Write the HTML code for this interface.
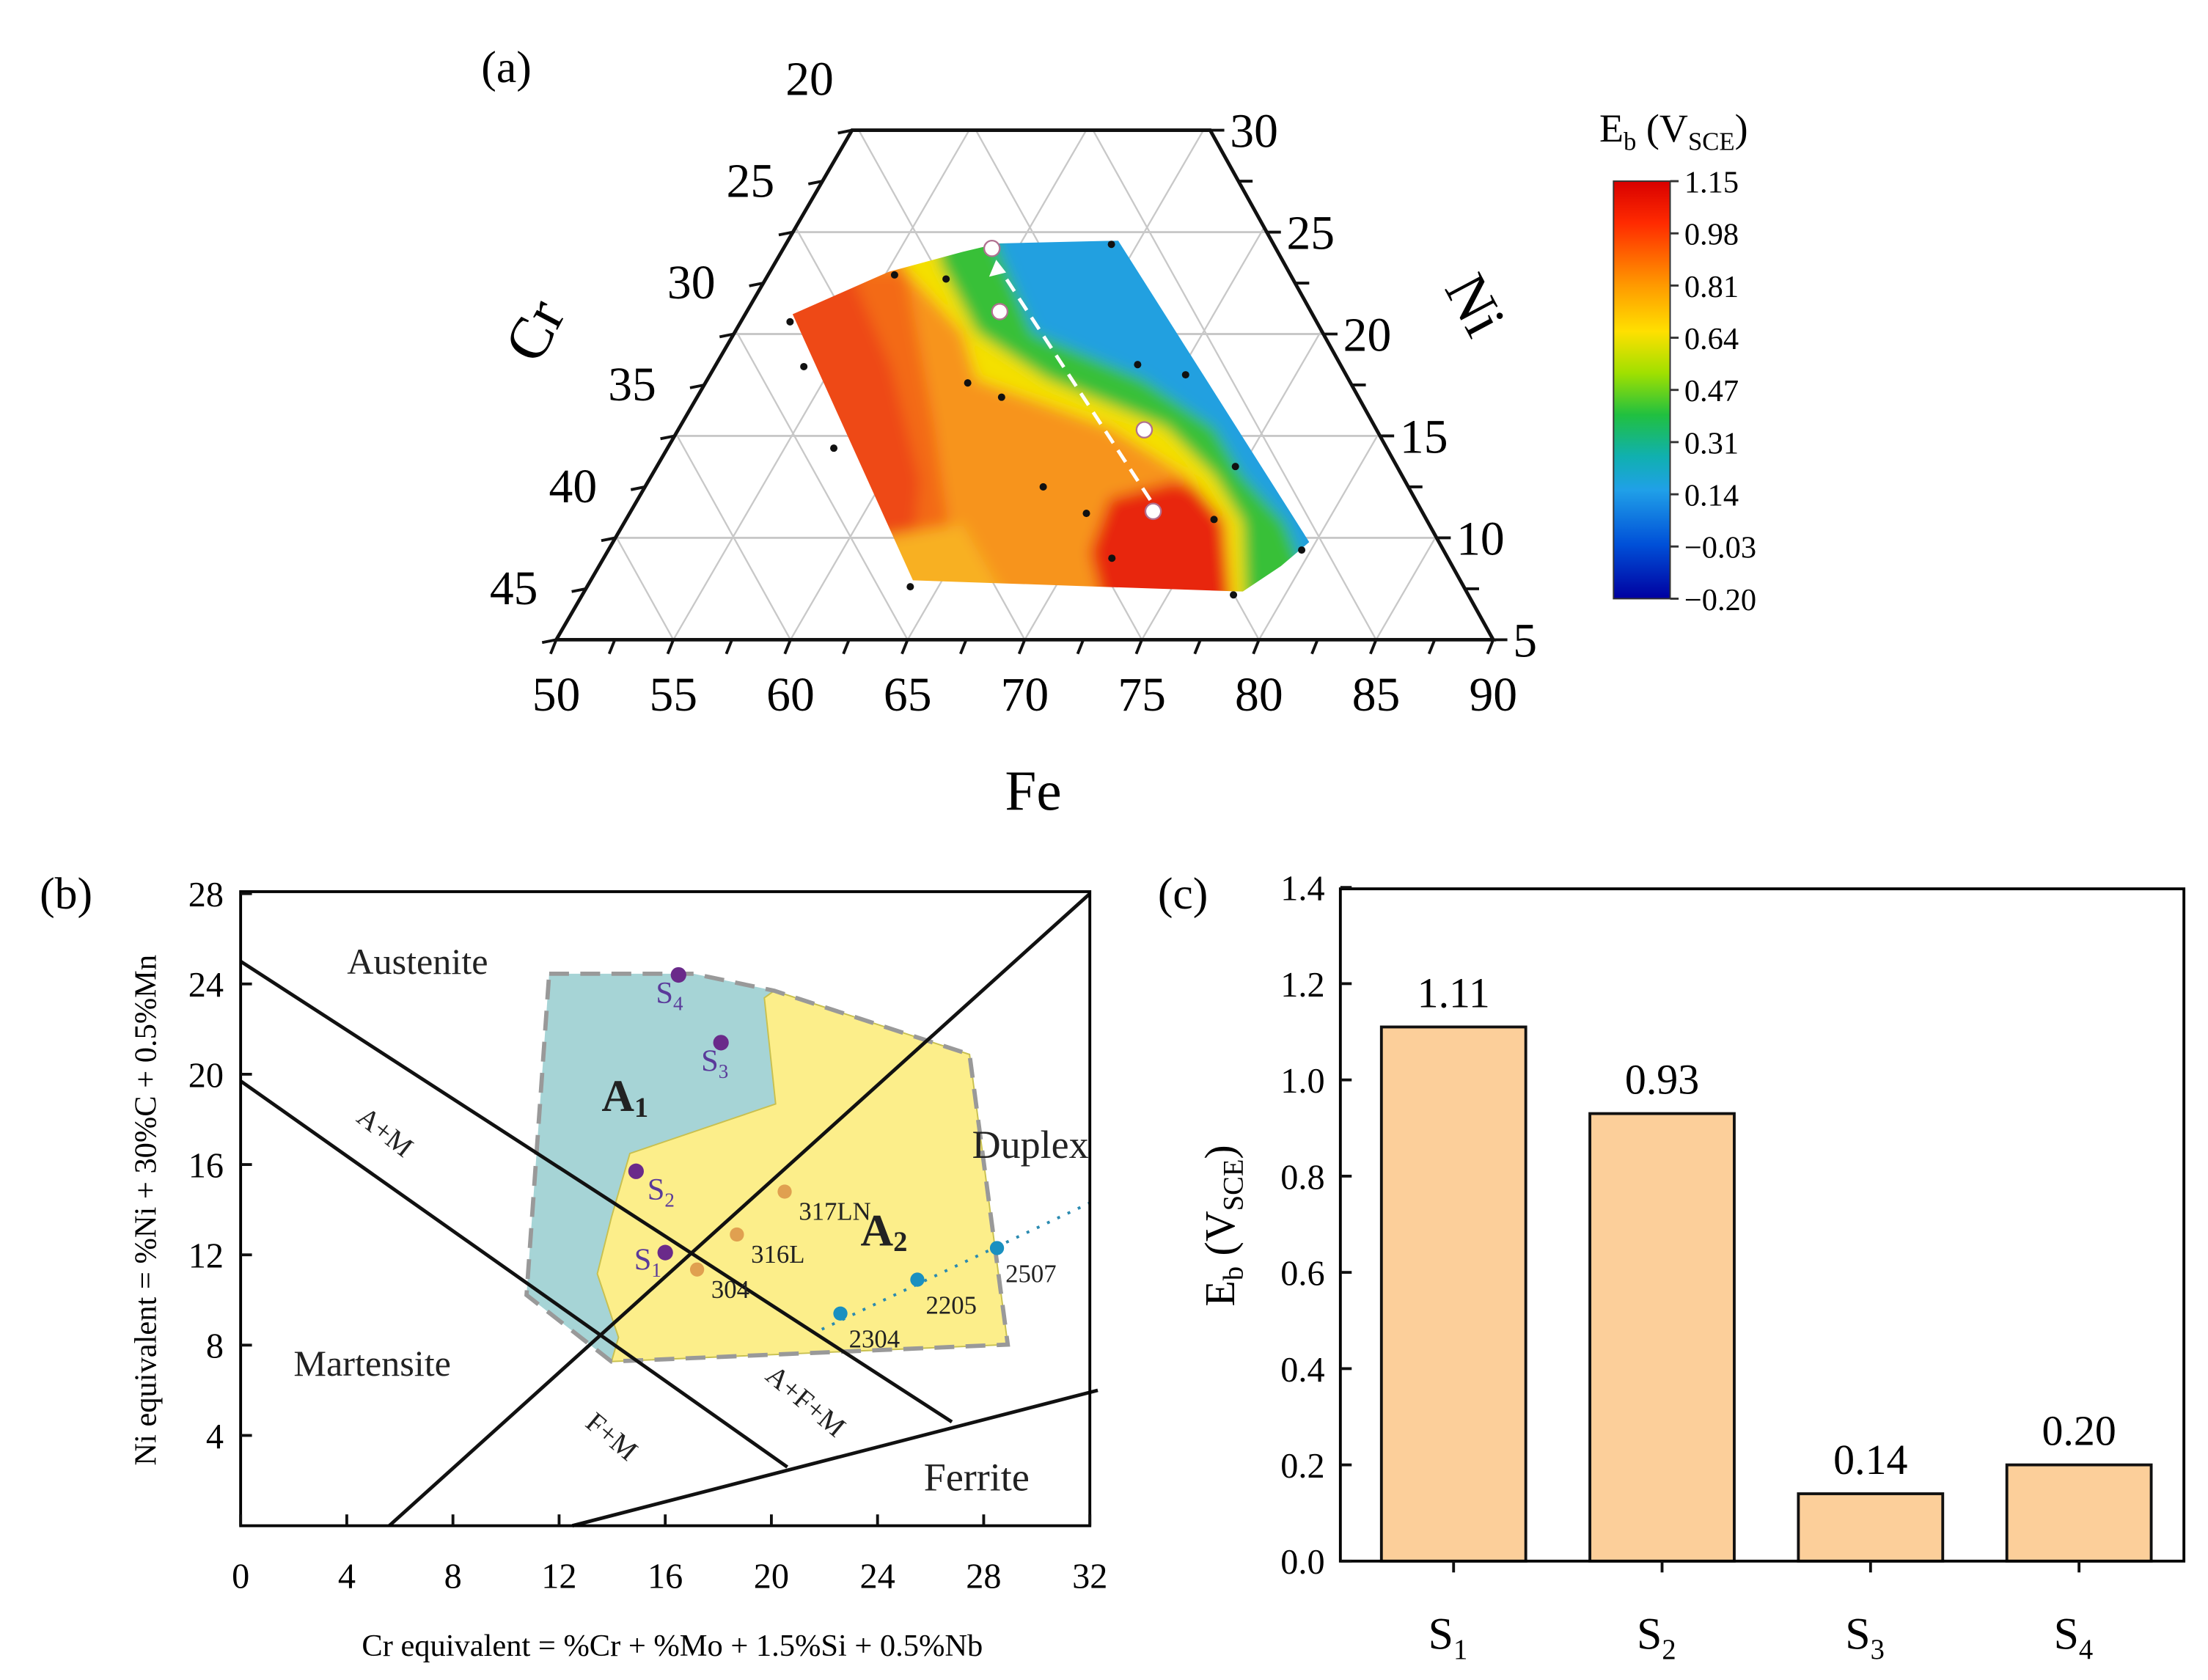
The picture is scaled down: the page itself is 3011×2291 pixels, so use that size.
<!DOCTYPE html>
<html><head><meta charset="utf-8">
<style>
html,body{margin:0;padding:0;background:#fff;}
svg{display:block;font-family:"Liberation Serif",serif;}
</style></head>
<body>
<svg id="fig" width="3011" height="2291" viewBox="0 0 1560 1187" xmlns="http://www.w3.org/2000/svg">
<defs>
  <clipPath id="triClip"><polygon points="393,452 602,92 855,92 1055,452"/></clipPath>
  <clipPath id="contClip"><polygon points="560,222 628,192 680,178 705,172 790,170 925,383 905,400 878,418 645,410"/></clipPath>
  <filter id="blur" x="-5%" y="-5%" width="110%" height="110%"><feGaussianBlur stdDeviation="5"/></filter>
  <linearGradient id="jet" x1="0" y1="0" x2="0" y2="1">
    <stop offset="0" stop-color="#d80000"/>
    <stop offset="0.1" stop-color="#ff2a00"/>
    <stop offset="0.25" stop-color="#ff9a00"/>
    <stop offset="0.36" stop-color="#ffe000"/>
    <stop offset="0.46" stop-color="#a0e000"/>
    <stop offset="0.56" stop-color="#20c040"/>
    <stop offset="0.66" stop-color="#10b0b0"/>
    <stop offset="0.74" stop-color="#20a0e8"/>
    <stop offset="0.87" stop-color="#0050d8"/>
    <stop offset="1" stop-color="#0000a0"/>
  </linearGradient>
</defs>

<!-- ============ PANEL A ============ -->
<g id="panelA">
  <text x="340" y="58" font-size="32">(a)</text>
  <g id="triGrid" clip-path="url(#triClip)"></g>
  <g clip-path="url(#contClip)">
    <g filter="url(#blur)">
      <polygon points="520,140 1000,140 1000,450 520,450" fill="#f7941a"/>
      <polygon points="520,180 600,180 630,260 650,340 640,440 520,440" fill="#ee4a12"/>
      <polygon points="600,190 640,191 660,300 680,440 640,440 650,340 630,260" fill="#f36a16"/>
      <polygon points="620,380 680,370 720,440 620,440" fill="#f8b020"/>
      <polygon points="784,352 830,340 862,350 870,430 780,430 770,390" fill="#e82810"/>
      <polygon points="640,191 680,235 690,268 784,302 838,336 866,369 870,430 1000,430 1000,140 630,140" fill="#f4e000"/>
      <polygon points="664,185 690,235 740,268 824,302 858,336 878,369 880,430 1000,430 1000,140 660,140" fill="#38c038"/>
      <polygon points="705,175 730,235 808,268 858,302 878,336 908,369 920,400 1000,430 1000,140 700,140" fill="#22a0e0"/>
      <polygon points="800,150 1000,150 1000,425 940,400 890,300 830,200" fill="#1a82e0"/>
    </g>
  </g>
  <g id="triAxes"></g>
  <g id="triMarks"></g>
  <text x="730" y="572" font-size="40" text-anchor="middle">Fe</text>
  <text x="0" y="0" font-size="42" text-anchor="middle" transform="translate(390,240) rotate(-62)">Cr</text>
  <text x="0" y="0" font-size="42" text-anchor="middle" transform="translate(1030,222) rotate(62)">Ni</text>

  <g>
    <text x="1130" y="100" font-size="28">E<tspan font-size="18" dy="6">b</tspan><tspan dy="-6"> (V</tspan><tspan font-size="18" dy="6">SCE</tspan><tspan dy="-6">)</tspan></text>
    <rect x="1140" y="128" width="40" height="295" fill="url(#jet)" stroke="#333" stroke-width="1"/>
    <g id="cbTicks"></g>
  </g>
</g>

<!-- ============ PANEL B ============ -->
<g id="panelB">
  <text x="28" y="642" font-size="32">(b)</text>
  <g id="bRegions">
    <polygon points="388,688 490,688 547,700 540,705 548,780 445,815 432,860 422,900 437,945 432,962 372,915" fill="#a6d4d6"/>
    <polygon points="547,700 685,745 712,950 432,962 437,945 422,900 432,860 445,815 548,780 540,705" fill="#fcee8a" stroke="#c8c050" stroke-width="1"/>
    <polygon points="388,688 490,688 547,700 685,745 712,950 432,962 372,915" fill="none" stroke="#999" stroke-width="3" stroke-dasharray="14,8"/>
  </g>
  <g id="bLines"></g>
  <g id="bPoints"></g>
  <rect x="170" y="630" width="600" height="448" fill="none" stroke="#000" stroke-width="2"/>
  <g id="bAxes"></g>
  <g font-size="26" fill="#222">
    <text x="295" y="688" text-anchor="middle">Austenite</text>
    <text x="263" y="972" text-anchor="middle">Martensite</text>
    <text x="728" y="818" text-anchor="middle" font-size="28">Duplex</text>
    <text x="690" y="1053" text-anchor="middle" font-size="28">Ferrite</text>
    <text x="0" y="0" font-size="20" text-anchor="middle" transform="translate(268,805) rotate(38)">A+M</text>
    <text x="0" y="0" font-size="20" text-anchor="middle" transform="translate(428,1020) rotate(40)">F+M</text>
    <text x="0" y="0" font-size="20" text-anchor="middle" transform="translate(565,995) rotate(40)">A+F+M</text>
    <text x="425" y="785" font-size="32" font-weight="bold">A<tspan font-size="20" dy="4">1</tspan></text>
    <text x="608" y="880" font-size="32" font-weight="bold">A<tspan font-size="20" dy="4">2</tspan></text>
  </g>
  <text x="0" y="0" font-size="22" text-anchor="middle" transform="translate(110,855) rotate(-90)">Ni equivalent = %Ni + 30%C + 0.5%Mn</text>
  <text x="475" y="1170" font-size="22" text-anchor="middle">Cr equivalent = %Cr + %Mo + 1.5%Si + 0.5%Nb</text>
</g>

<!-- ============ PANEL C ============ -->
<g id="panelC">
  <text x="818" y="642" font-size="32">(c)</text>
  <g id="cBars"></g>
  <rect x="947" y="628" width="596" height="475" fill="none" stroke="#000" stroke-width="2"/>
  <g id="cAxes"></g>
  <text x="0" y="0" font-size="30" text-anchor="middle" transform="translate(872,866) rotate(-90)">E<tspan font-size="20" dy="6">b</tspan><tspan dy="-6"> (V</tspan><tspan font-size="20" dy="6">SCE</tspan><tspan dy="-6">)</tspan></text>
</g>

<script>
var NS='http://www.w3.org/2000/svg';
function mk(parent,tag,attrs,txt){var e=document.createElementNS(NS,tag);for(var k in attrs)e.setAttribute(k,attrs[k]);if(txt!==undefined)e.textContent=txt;parent.appendChild(e);return e;}

/* ---------- Panel A data ---------- */
var feTicks=[50,55,60,65,70,75,80,85,90];
var crTicks=[20,25,30,35,40,45];
var niTicks=[30,25,20,15,10,5];
var sampleFe=[55.4,57.7,63.9,52.1,53.8,57.1,61.2,63.0,68.0,70.3,74.7,67.0,69.5,75.1,71.7,79.6,63.8,77.8];
var sampleNi=[22.9,22.7,24.4,20.6,18.4,14.4,17.6,16.9,18.5,18.0,13.5,12.5,11.2,10.9,9.0,9.4,7.6,7.2];
var selFe=[58.9,60.8,69.9,72.3];
var selNi=[24.2,21.1,15.3,11.3];
var cbLabels=["1.15","0.98","0.81","0.64","0.47","0.31","0.14","\u22120.03","\u22120.20"];

function tx(fe,ni){var h=(ni-5)*14.4;return 393+(fe-50)*16.55+h*0.5806;}
function ty(ni){return 452-(ni-5)*14.4;}

var g=document.getElementById('triGrid');
for(var n=10;n<30;n+=5){var l=mk(g,'line',{x1:380,x2:1070,y1:ty(n),y2:ty(n),stroke:'#c8c8c8','stroke-width':1.5});

}
for(var k=-8;k<=14;k++){var xb=393+k*82.75;
 var a=mk(g,'line',{x1:xb,y1:452,x2:xb+209,y2:92,stroke:'#c8c8c8','stroke-width':1.2});
 
 
 var b=mk(g,'line',{x1:xb,y1:452,x2:xb-200,y2:92,stroke:'#c8c8c8','stroke-width':1.2});
 
 }

var ax=document.getElementById('triAxes');
var tri=mk(ax,'polygon',{points:'393,452 602,92 855,92 1055,452',fill:'none',stroke:'#111','stroke-width':2.5});


for(var f=50;f<=90;f+=2.5){var x=393+(f-50)*16.55;var t=mk(ax,'line',{x1:x,x2:x-4,y1:452,y2:462,stroke:'#111','stroke-width':2});
 
 }
feTicks.forEach(function(v){var x=393+(v-50)*16.55;var t=mk(ax,'text',{x:x,y:502,'font-size':34,'text-anchor':'middle'},String(v));
 
 });
for(var c=20;c<=45;c+=2.5){var y=92+(c-20)*14.4;var x=602-(y-92)*209/360;var t=mk(ax,'line',{x1:x,x2:x-10,y1:y,y2:y+2,stroke:'#111','stroke-width':2});
 
 }
crTicks.forEach(function(v){var y=92+(v-20)*14.4;var x=602-(y-92)*209/360;var t=mk(ax,'text',{x:x-30,y:y-25,'font-size':34,'text-anchor':'middle'},String(v));
 
 });
for(var n2=5;n2<=30;n2+=2.5){var y=ty(n2);var x=1055-(452-y)*200/360;var t=mk(ax,'line',{x1:x,x2:x+10,y1:y,y2:y,stroke:'#111','stroke-width':2});
 
 }
niTicks.forEach(function(v){var y=ty(v);var x=1055-(452-y)*200/360;var t=mk(ax,'text',{x:x+14,y:y+12,'font-size':34},String(v));
 
 });

var mg=document.getElementById('triMarks');
sampleFe.forEach(function(fe,i){var d=mk(mg,'circle',{cx:tx(fe,sampleNi[i]),cy:ty(sampleNi[i]),r:2.6,fill:'#111'});
 
 });
var ar=mk(mg,'line',{x1:tx(selFe[3],selNi[3])-2,y1:ty(selNi[3])-8,x2:tx(selFe[0],selNi[0])+4,y2:ty(selNi[0])+12,stroke:'#fff','stroke-width':2.5,'stroke-dasharray':'10,6'});


var ah=mk(mg,'polygon',{points:(tx(selFe[0],selNi[0])+3)+','+(ty(selNi[0])+8)+' '+(tx(selFe[0],selNi[0])-2)+','+(ty(selNi[0])+20)+' '+(tx(selFe[0],selNi[0])+10)+','+(ty(selNi[0])+17),fill:'#fff'});


selFe.forEach(function(fe,i){var d=mk(mg,'circle',{cx:tx(fe,selNi[i]),cy:ty(selNi[i]),r:5.5,fill:'#fff',stroke:'#b07090','stroke-width':1.2});
 
 });

var cb=document.getElementById('cbTicks');
cbLabels.forEach(function(s,i){var y=128+i*295/8;
 var t=mk(cb,'line',{x1:1180,x2:1186,y1:y,y2:y,stroke:'#333','stroke-width':1.5});
 
 
 var l=mk(cb,'text',{x:1190,y:y+8,'font-size':22},s);
 
 });

/* ---------- Panel B data ---------- */
var bXTicks=[0,4,8,12,16,20,24,28,32];
var bYTicks=[4,8,12,16,20,24,28];
var boundX1=[0,0,5.6,12.5];
var boundY1=[25,19.7,0,0];
var boundX2=[26.8,20.6,32,32.3];
var boundY2=[4.6,2.6,28,6.0];
var sNames=["1","2","3","4"];
var sX=[16.0,14.9,18.1,16.5];
var sY=[12.1,15.7,21.4,24.4];
var refNames=["304","316L","317LN"];
var refX=[17.2,18.7,20.5];
var refY=[11.35,12.9,14.8];
var dupNames=["2304","2205","2507"];
var dupX=[22.6,25.5,28.5];
var dupY=[9.4,10.9,12.3];
function bx(v){return 170+v*18.75;}
function by(v){return 1078-v*15.95;}

var bl=document.getElementById('bLines');
boundX1.forEach(function(x,i){var l=mk(bl,'line',{x1:bx(x),y1:by(boundY1[i]),x2:bx(boundX2[i]),y2:by(boundY2[i]),stroke:'#111','stroke-width':2.5});
 
 });
var dl=mk(bl,'line',{x1:bx(21.9),y1:by(8.7),x2:bx(32),y2:by(14.3),stroke:'#2a8ab0','stroke-width':2,'stroke-dasharray':'2,6'});



var bp=document.getElementById('bPoints');
sX.forEach(function(x,i){var d=mk(bp,'circle',{cx:bx(x),cy:by(sY[i]),r:5.5,fill:'#6a2a8a'});
 
 
 var offs=[[-22,12],[8,20],[-14,20],[-16,20]];
 var t=mk(bp,'text',{x:bx(x)+offs[i][0],y:by(sY[i])+offs[i][1],'font-size':22,fill:'#5a3a9a'});
 
 
 t.textContent='S';
 var sb=mk(t,'tspan',{'font-size':14,dy:5},sNames[i]);});
refX.forEach(function(x,i){var d=mk(bp,'circle',{cx:bx(x),cy:by(refY[i]),r:5,fill:'#e0a050'});
 
 
 var t=mk(bp,'text',{x:bx(x)+10,y:by(refY[i])+20,'font-size':18,fill:'#222'},refNames[i]);
 
 });
dupX.forEach(function(x,i){var d=mk(bp,'circle',{cx:bx(x),cy:by(dupY[i]),r:5,fill:'#1a90c0'});
 
 
 var t=mk(bp,'text',{x:bx(x)+6,y:by(dupY[i])+24,'font-size':18,fill:'#222'},dupNames[i]);
 
 });

var ba=document.getElementById('bAxes');
bXTicks.forEach(function(v){var x=bx(v);
 var t=mk(ba,'line',{x1:x,x2:x,y1:1078,y2:1070,stroke:'#111','stroke-width':2});
 
 
 var l=mk(ba,'text',{x:x,y:1122,'font-size':25,'text-anchor':'middle'},String(v));
 
 });
bYTicks.forEach(function(v){var y=by(v);
 var t=mk(ba,'line',{x1:170,x2:178,y1:y,y2:y,stroke:'#111','stroke-width':2});
 
 
 var l=mk(ba,'text',{x:158,y:y+9,'font-size':25,'text-anchor':'end'},String(v));
 
 });

/* ---------- Panel C data ---------- */
var cCats=["1","2","3","4"];
var cVals=[1.11,0.93,0.14,0.20];
var cLabels=["1.11","0.93","0.14","0.20"];
var cYTicks=["0.0","0.2","0.4","0.6","0.8","1.0","1.2","1.4"];
function cy(v){return 1103-v*340;}
function cx(i){return 1027+i*147.3;}
var cb2=document.getElementById('cBars');
cVals.forEach(function(v,i){
 var r=mk(cb2,'rect',{x:cx(i)-51,y:cy(v),width:102,height:1103-cy(v),fill:'#fccf9a',stroke:'#111','stroke-width':2});
 
 
 var t=mk(cb2,'text',{x:cx(i),y:cy(v)-14,'font-size':30,'text-anchor':'middle'},cLabels[i]);
 
 });
var ca=document.getElementById('cAxes');
cYTicks.forEach(function(s,i){var y=cy(i*0.2);
 var t=mk(ca,'line',{x1:947,x2:955,y1:y,y2:y,stroke:'#111','stroke-width':2});
 
 
 var l=mk(ca,'text',{x:936,y:y+9,'font-size':25,'text-anchor':'end'},s);
 
 });
cCats.forEach(function(s,i){var x=cx(i);
 var t=mk(ca,'line',{x1:x,x2:x,y1:1103,y2:1111,stroke:'#111','stroke-width':2});
 
 
 var l=mk(ca,'text',{x:x-4,y:1165,'font-size':32,'text-anchor':'middle'});
 
 
 l.textContent='S';
 mk(l,'tspan',{'font-size':20,dy:7},s);});
</script>
</svg>
</body></html>
